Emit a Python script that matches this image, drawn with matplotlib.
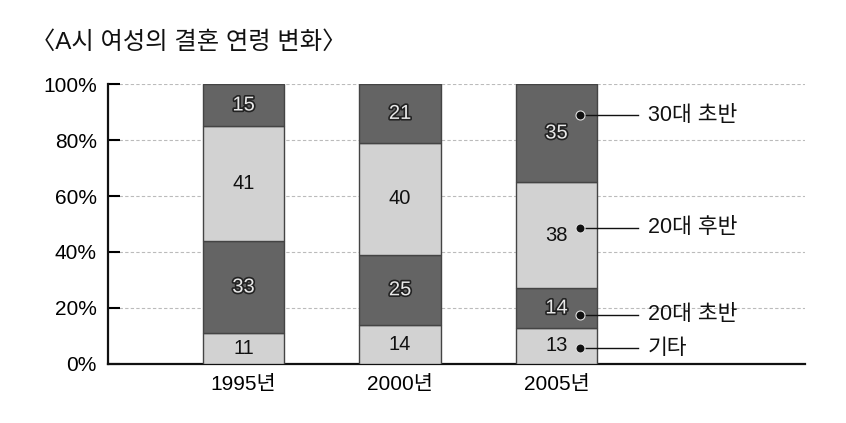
import matplotlib
matplotlib.use("Agg")
import matplotlib.pyplot as plt
import matplotlib.patheffects as pe
import numpy as np

plt.rcParams['font.family'] = ['Liberation Sans', 'Noto Sans CJK KR', 'DejaVu Sans']

# data (%)
years = ['1995년', '2000년', '2005년']
groups = ['기타', '20대 초반', '20대 후반', '30대 초반']
etc = [11, 14, 13]
early20 = [33, 25, 14]
late20 = [41, 40, 38]
early30 = [15, 21, 35]
yticks = [0, 20, 40, 60, 80, 100]

series = [etc, early20, late20, early30]
dark = '#646464'
light = '#d2d2d2'
colors = [light, dark, light, dark]

fig = plt.figure(figsize=(8.46, 4.23), dpi=100)
ax = fig.add_axes([0.1277, 0.1395, 0.8238, 0.6619])

x = np.arange(len(years))
bottom = np.zeros(len(years))
for vals, col in zip(series, colors):
    vals = np.array(vals)
    ax.bar(x, vals, bottom=bottom, width=0.52, color=col, edgecolor='#444444',
           linewidth=1.0, zorder=3)
    for xi, b, v in zip(x, bottom, vals):
        if col == dark:
            ax.text(xi, b + v / 2, str(v), ha='center', va='center', fontsize=14.5,
                    color='#e8e8e8', zorder=5,
                    path_effects=[pe.withStroke(linewidth=2.4, foreground='#222222')])
        else:
            ax.text(xi, b + v / 2, str(v), ha='center', va='center', fontsize=14.5,
                    color='#111111', zorder=5)
    bottom += vals

# callouts on the last bar
label_y = [5.7, 17.5, 48.6, 88.9]
for name, ly in zip(groups, label_y):
    ax.plot([2.15, 2.52], [ly, ly], color='#111111', lw=1.0, zorder=6)
    ax.plot(2.15, ly, 'o', color='#111111', markersize=6.5, zorder=7,
            markeredgecolor='#e0e0e0', markeredgewidth=0.8)
    ax.text(2.585, ly, name, ha='left', va='center', fontsize=15.5, color='#111111')

ax.set_xlim(-0.866, 3.588)
ax.set_ylim(0, 100)
ax.set_xticks(x)
ax.set_xticklabels(years, fontsize=15)
ax.set_yticks(yticks)
ax.set_yticklabels([f'{t}%' for t in yticks], fontsize=15)
ax.tick_params(axis='x', length=0, pad=8)
ax.tick_params(axis='y', direction='in', length=8.5, width=1.5, pad=8)
ax.yaxis.grid(True, color='#bbbbbb', linestyle=(0, (3, 2)), linewidth=0.8, zorder=0)
ax.set_axisbelow(True)

for s in ['top', 'right']:
    ax.spines[s].set_visible(False)
ax.spines['left'].set_linewidth(1.6)
ax.spines['bottom'].set_linewidth(1.6)
ax.spines['left'].set_color('#111111')
ax.spines['bottom'].set_color('#111111')

fig.text(0.037, 0.90, '〈A시 여성의 결혼 연령 변화〉', ha='left', va='center',
         fontsize=17.5, color='#111111')

fig.savefig('out.png', dpi=100, facecolor='white')
